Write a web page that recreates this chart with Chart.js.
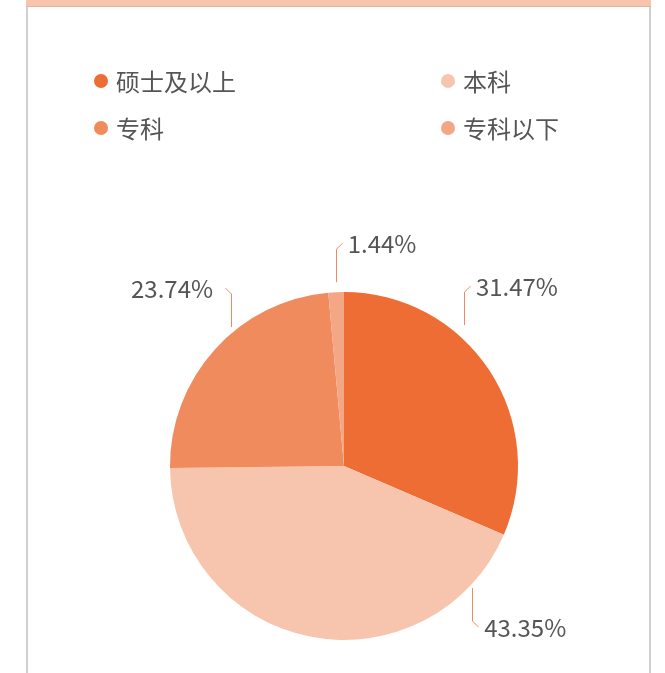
<!DOCTYPE html>
<html>
<head>
<meta charset="utf-8">
<script src="https://cdn.jsdelivr.net/npm/chart.js@4"></script>
<style>
  html, body { margin: 0; padding: 0; background: #fff; }
  body { width: 665px; height: 673px; position: relative; overflow: hidden; font-family: "Noto Sans CJK SC", "Noto Sans", sans-serif; }
  #topbar { position: absolute; left: 26px; top: 0; width: 625px; height: 7px; background: #F7C5AD; border-bottom: 1px solid #e4b49c; box-sizing: border-box; }
  #card { position: absolute; left: 26px; top: 7px; width: 625px; height: 680px; border-left: 2px solid #d0d0d0; border-right: 2px solid #d0d0d0; box-sizing: border-box; }
  #mycanvas { position: absolute; left: 0; top: 0; }
  #legend { position: absolute; left: 94px; top: 66px; display: grid; grid-template-columns: 347px auto; grid-auto-rows: 47px; }
  .item { display: flex; align-items: center; height: 29px; font-size: 24px; color: #555; }
  .dot { width: 14px; height: 14px; border-radius: 50%; margin-right: 8px; flex: none; }
</style>
</head>
<body>
<div id="topbar"></div>
<div id="card"></div>
<canvas id="mycanvas" width="665" height="673"></canvas>
<div id="legend"></div>
<script>
// data
var categories = ['硕士及以上', '本科', '专科', '专科以下'];
var shares = [31.47, 43.35, 23.74, 1.44];
var sliceColors = ['#EE6D35', '#F7C5AD', '#F08B5E', '#F3A785'];

// legend (html, 2 columns)
var legend = document.getElementById('legend');
categories.forEach(function(name, i){
	var item = document.createElement('div');
	item.className = 'item';
	var dot = document.createElement('span');
	dot.className = 'dot';
	dot.style.background = sliceColors[i];
	item.appendChild(dot);
	item.appendChild(document.createTextNode(name));
	legend.appendChild(item);
});

// percent labels with bent leader lines
var outLabels = {
	id: 'outLabels',
	afterDatasetsDraw: function(chart, args, opts) {
		var ctx = chart.ctx;
		var arcs = chart.getDatasetMeta(0).data;
		ctx.save();
		ctx.font = opts.font;
		ctx.fillStyle = opts.color;
		ctx.strokeStyle = opts.lineColor;
		ctx.lineWidth = 1;
		ctx.textBaseline = 'middle';
		arcs.forEach(function(arc, i){
			var p = arc.getProps(['x', 'y', 'startAngle', 'endAngle', 'outerRadius'], true);
			var a = opts.anchors[i] == null ? (p.startAngle + p.endAngle) / 2 : (opts.anchors[i] - 90) * Math.PI / 180;
			var r = p.outerRadius + opts.gaps[i];
			var ax = p.x + r * Math.cos(a);
			var ay = p.y + r * Math.sin(a);
			var vdir = ay < p.y ? -1 : 1;
			var hdir = Math.cos(a) > -0.2 ? 1 : -1;
			var by = ay + vdir * opts.leg;
			var ex = ax + hdir * opts.bend;
			var ey = by + vdir * opts.bend;
			ctx.beginPath();
			ctx.moveTo(Math.round(ax) + 0.5, ay);
			ctx.lineTo(Math.round(ax) + 0.5, by);
			ctx.lineTo(Math.round(ex) + 0.5, ey);
			ctx.stroke();
			ctx.textAlign = hdir > 0 ? 'left' : 'right';
			ctx.fillText(shares[i].toFixed(2) + '%', ex + (hdir > 0 ? 6 : -12), ey + 1);
		});
		ctx.restore();
	}
};

var chartdata = {
	labels: categories,
	datasets: [{
		data: shares,
		backgroundColor: sliceColors,
		hoverBackgroundColor: sliceColors,
		borderWidth: 0
	}]
};

var ctx = document.getElementById('mycanvas');
var pieGraph = new Chart(ctx, {
	type: 'pie',
	data: chartdata,
	plugins: [outLabels],
	options: {
		responsive: false,
		animation: false,
		devicePixelRatio: 1,
		layout: { padding: { left: 170, right: 147, top: 292, bottom: 33 } },
		plugins: {
			legend: { display: false },
			tooltip: { enabled: false },
			outLabels: {
				anchors: [40.4, 133.6, 320.9, null],
				gaps: [11, 3, 5, 10],
				leg: 33,
				bend: 6,
				font: '24px "Noto Sans CJK SC", "Noto Sans", sans-serif',
				color: '#555555',
				lineColor: '#F08B5E'
			}
		}
	}
});
</script>
</body>
</html>
